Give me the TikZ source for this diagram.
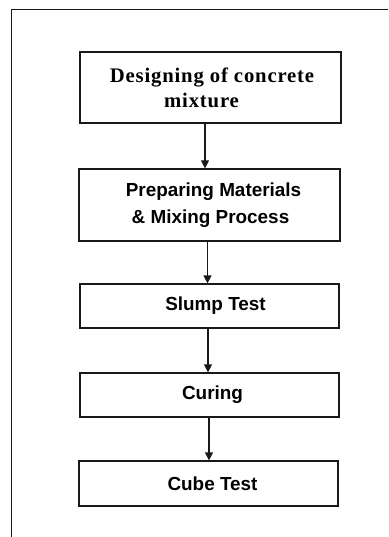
\documentclass[tikz,border=0pt]{standalone}
\usepackage{fontspec}
\setmainfont{Liberation Serif}
\setsansfont{Liberation Sans}
\usetikzlibrary{arrows.meta}
\begin{document}
\begin{tikzpicture}[x=1pt,y=-1pt,
  box/.style={draw=black!90,line width=1.2pt,rectangle,inner sep=0pt,minimum width=259pt,minimum height=44pt,align=center},
  sansbox/.style={box,font=\sffamily\bfseries\fontsize{18.9}{26.5}\selectfont},
  flow/.style={draw=black!90,line width=1.2pt,-{Triangle[width=8pt,length=8pt]}}]
\useasboundingbox (0,0) rectangle (388,537);
\fill[white] (0,0) rectangle (388,537);
\coordinate (fb) at (11,537);
\coordinate (fc) at (11,10);
\coordinate (fr) at (388,10);
\draw[line width=1pt,black!90] (fb) -- (fc) -- (fr);
\node[box,minimum width=261pt,minimum height=71pt,font=\rmfamily\bfseries\addfontfeature{LetterSpace=4}\fontsize{20.7}{25}\selectfont] (b1) at (210.5,87.5) {\hspace*{3pt}Designing of concrete\\mixture\hspace*{18pt}};
\node[sansbox,minimum width=261pt,minimum height=72pt] (b2) at (209.5,205) {\hspace*{8pt}Preparing Materials\\\hspace*{2pt}\& Mixing Process};
\node[sansbox] (b3) at (209.5,306) {\hspace*{12pt}Slump Test};
\node[sansbox] (b4) at (209.5,395) {\hspace*{6pt}Curing};
\node[sansbox,minimum height=45pt] (b5) at (208.5,483.5) {\hspace*{8pt}Cube Test};
\draw[flow] ([xshift=-5.5pt]b1.south) -- ([xshift=-5.5pt]b1.south |- b2.north);
\draw[flow] ([xshift=-2pt]b2.south) -- ([xshift=-2pt]b2.south |- b3.north);
\draw[flow] ([xshift=-1.5pt]b3.south) -- ([xshift=-1.5pt]b3.south |- b4.north);
\draw[flow] ([xshift=-0.5pt]b4.south) -- ([xshift=-0.5pt]b4.south |- b5.north);
\end{tikzpicture}
\end{document}
